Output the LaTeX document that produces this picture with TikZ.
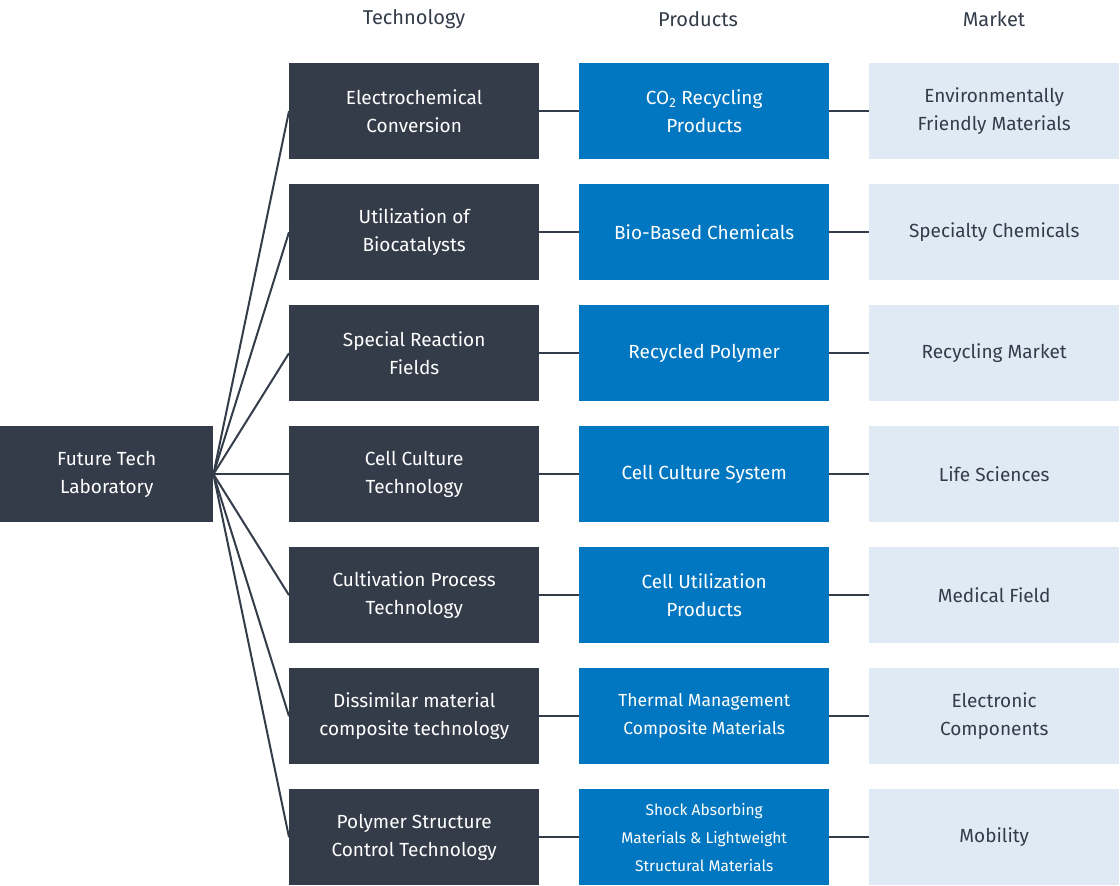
\documentclass[tikz,border=0pt]{standalone}
\usepackage{fontspec}
\setmainfont{Fira Sans}
\begin{document}
\begin{tikzpicture}[x=1pt,y=-1pt,
  box/.style={minimum width=250pt,minimum height=96pt,inner sep=0pt,align=center,font=\fontsize{19}{28}\selectfont,anchor=north west},
  tech/.style={box,fill=dk,text=white},
  prod/.style={box,fill=bl,text=white},
  mkt/.style={box,fill=lt,text=dk},
  con/.style={draw=dk,line width=2pt},
  hdr/.style={font=\fontsize{20}{24}\selectfont,text=dk}]
\definecolor{dk}{HTML}{343C4A}
\definecolor{bl}{HTML}{0077C0}
\definecolor{lt}{HTML}{E0EAF4}
\useasboundingbox (0,0) rectangle (1120,886);
\node[hdr] (h1) at (414,19) {Technology};
\node[hdr] (h2) at (698,19) {Products};
\node[hdr] (h3) at (994,19) {Market};
\node[tech,minimum width=213pt] (root) at (0,426) {Future Tech\\Laboratory};
\foreach \i/\t/\p/\m in {
 0/{Electrochemical\\Conversion}/{CO\textsubscript{2} Recycling\\Products}/{Environmentally\\Friendly Materials},
 1/{Utilization of\\Biocatalysts}/{Bio-Based Chemicals}/{Specialty Chemicals},
 2/{Special Reaction\\Fields}/{Recycled Polymer}/{Recycling Market},
 3/{Cell Culture\\Technology}/{Cell Culture System}/{Life Sciences},
 4/{Cultivation Process\\Technology}/{Cell Utilization\\Products}/{Medical Field},
 5/{Dissimilar material\\composite technology}/{\fontsize{17.5}{28}\selectfont Thermal Management\\\fontsize{17.5}{28}\selectfont Composite Materials}/{Electronic\\Components},
 6/{Polymer Structure\\Control Technology}/{\fontsize{15.5}{22}\selectfont Shock Absorbing\\\fontsize{15.5}{22}\selectfont Materials \& Lightweight\\\fontsize{15.5}{22}\selectfont Structural Materials}/{Mobility}} {
  \node[tech] (t\i) at (289,63+121*\i) {\t};
  \node[prod] (p\i) at (579,63+121*\i) {\p};
  \node[mkt] (m\i) at (869,63+121*\i) {\m};
  \draw[con] (root.east) -- (t\i.west);
  \draw[con] (t\i.east) -- (p\i.west);
  \draw[con] (p\i.east) -- (m\i.west);
}
\end{tikzpicture}
\end{document}
